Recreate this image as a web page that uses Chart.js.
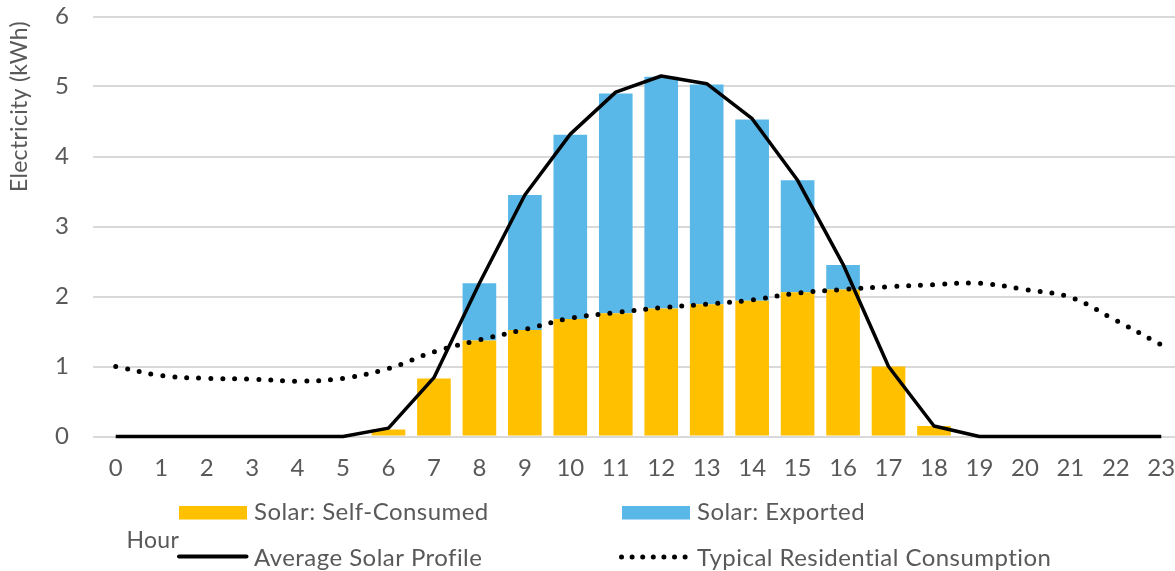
<!DOCTYPE html>
<html>
<head>
<meta charset="utf-8">
<script src="https://cdn.jsdelivr.net/npm/chart.js@4/dist/chart.umd.min.js"></script>
<style>
  html, body { margin: 0; padding: 0; overflow: hidden; background: #ffffff; }
  #wrap { position: absolute; left: 0; top: 0; width: 1184px; height: 571px; }
</style>
</head>
<body>
<div id="wrap"><canvas id="c" width="1184" height="571"></canvas></div>
<script>
// Hours of the day (category axis)
const hours = ['0','1','2','3','4','5','6','7','8','9','10','11','12','13','14','15','16','17','18','19','20','21','22','23'];

// Solar generation used on site (kWh)
const selfConsumed = [0,0,0,0,0,0,0.10,0.83,1.37,1.52,1.68,1.76,1.83,1.89,1.94,2.06,2.10,1.00,0.15,0,0,0,0,0];

// Solar generation sent to the grid (kWh)
const exported = [0,0,0,0,0,0,0,0,0.82,1.93,2.63,3.14,3.31,3.14,2.59,1.60,0.35,0,0,0,0,0,0,0];

// Average hourly solar output (kWh)
const solarProfile = [0,0,0,0,0,0,0.12,0.84,2.19,3.45,4.32,4.92,5.15,5.04,4.54,3.66,2.46,1.00,0.15,0,0,0,0,0];

// Typical household demand (kWh)
const consumption = [1.00,0.87,0.83,0.82,0.79,0.83,0.97,1.21,1.38,1.53,1.69,1.77,1.84,1.89,1.95,2.05,2.10,2.14,2.17,2.19,2.10,1.99,1.66,1.31];

// Value-axis ticks
const yTicks = [0,1,2,3,4,5,6];

const seriesNames = {
  self: 'Solar: Self-Consumed',
  exported: 'Solar: Exported',
  solar: 'Average Solar Profile',
  demand: 'Typical Residential Consumption'
};

const ORANGE = '#FFC000';
const BLUE = '#5AB8E8';
const TEXT = '#595959';
const GRID = '#d9d9d9';
const FONT = 'Lato, "Open Sans", sans-serif';

// Legend and axis titles drawn in the space under and left of the plot
const annotations = {
  id: 'annotations',
  afterDraw(chart) {
    const ctx = chart.ctx;
    ctx.save();
    ctx.fillStyle = TEXT;

    // vertical axis title
    ctx.save();
    ctx.translate(26.5, 106.5);
    ctx.rotate(-Math.PI / 2);
    ctx.font = '23px ' + FONT;
    ctx.letterSpacing = '0.3px';
    ctx.textAlign = 'center';
    ctx.textBaseline = 'alphabetic';
    ctx.fillText('Electricity (kWh)', 0, 0);
    ctx.restore();

    // horizontal axis title
    ctx.font = '23px ' + FONT;
    ctx.letterSpacing = '0.3px';
    ctx.textAlign = 'left';
    ctx.textBaseline = 'alphabetic';
    ctx.fillText('Hour', 126.5, 547.5);

    // legend keys
    ctx.fillStyle = ORANGE;
    ctx.fillRect(179, 506, 68, 13.5);
    ctx.fillStyle = BLUE;
    ctx.fillRect(622, 506, 68, 13.5);

    ctx.strokeStyle = '#000000';
    ctx.lineWidth = 4;
    ctx.lineCap = 'round';
    ctx.beginPath();
    ctx.moveTo(179, 556.5);
    ctx.lineTo(246.5, 556.5);
    ctx.stroke();

    ctx.fillStyle = '#000000';
    for (let i = 0; i < 7; i++) {
      ctx.beginPath();
      ctx.arc(621.5 + i * 10.6, 557, 2.5, 0, Math.PI * 2);
      ctx.fill();
    }

    // legend labels
    ctx.font = '24px ' + FONT;
    ctx.letterSpacing = '0.45px';
    ctx.fillStyle = TEXT;
    ctx.fillText(seriesNames.self, 254, 520);
    ctx.fillText(seriesNames.exported, 697, 520);
    ctx.fillText(seriesNames.solar, 254, 566);
    ctx.fillText(seriesNames.demand, 697, 566);
    ctx.restore();
  }
};

new Chart(document.getElementById('c'), {
  data: {
    labels: hours,
    datasets: [
      {
        type: 'line',
        label: seriesNames.solar,
        data: solarProfile,
        borderColor: '#000000',
        borderWidth: 3.5,
        borderJoinStyle: 'round',
        pointRadius: 0,
        tension: 0,
        stack: 'solarLine',
        clip: false,
        order: 0
      },
      {
        type: 'line',
        label: seriesNames.demand,
        data: consumption,
        borderColor: '#000000',
        borderWidth: 5,
        borderCapStyle: 'round',
        borderDash: [0, 12],
        pointRadius: 0,
        tension: 0.35,
        stack: 'demandLine',
        clip: false,
        order: 0
      },
      {
        type: 'bar',
        label: seriesNames.self,
        data: selfConsumed,
        backgroundColor: ORANGE,
        stack: 'solar',
        barPercentage: 0.74,
        categoryPercentage: 1.0,
        order: 1
      },
      {
        type: 'bar',
        label: seriesNames.exported,
        data: exported,
        backgroundColor: BLUE,
        stack: 'solar',
        barPercentage: 0.74,
        categoryPercentage: 1.0,
        order: 1
      }
    ]
  },
  options: {
    responsive: false,
    animation: false,
    devicePixelRatio: 1,
    layout: { padding: { top: 16.5, left: 0, right: 0, bottom: 0 } },
    plugins: {
      legend: { display: false },
      tooltip: { enabled: false }
    },
    scales: {
      x: {
        stacked: true,
        offset: true,
        grid: { display: false, drawTicks: false },
        border: { display: false },
        ticks: {
          color: TEXT,
          font: { family: FONT, size: 24 },
          padding: 17,
          maxRotation: 0,
          autoSkip: false
        },
        afterFit(scale) {
          scale.height = 571 - 436.5;
          scale.paddingLeft = 0;
          scale.paddingRight = 0;
        }
      },
      y: {
        stacked: true,
        min: 0,
        max: 6,
        afterBuildTicks(scale) { scale.ticks = yTicks.map(v => ({ value: v })); },
        grid: { color: GRID, lineWidth: 2, drawTicks: false },
        border: { display: false },
        ticks: {
          color: TEXT,
          font: { family: FONT, size: 24 },
          padding: 24
        },
        afterFit(scale) {
          scale.width = 93;
          scale.paddingTop = 0;
          scale.paddingBottom = 0;
        }
      }
    }
  },
  plugins: [annotations]
});
</script>
</body>
</html>
